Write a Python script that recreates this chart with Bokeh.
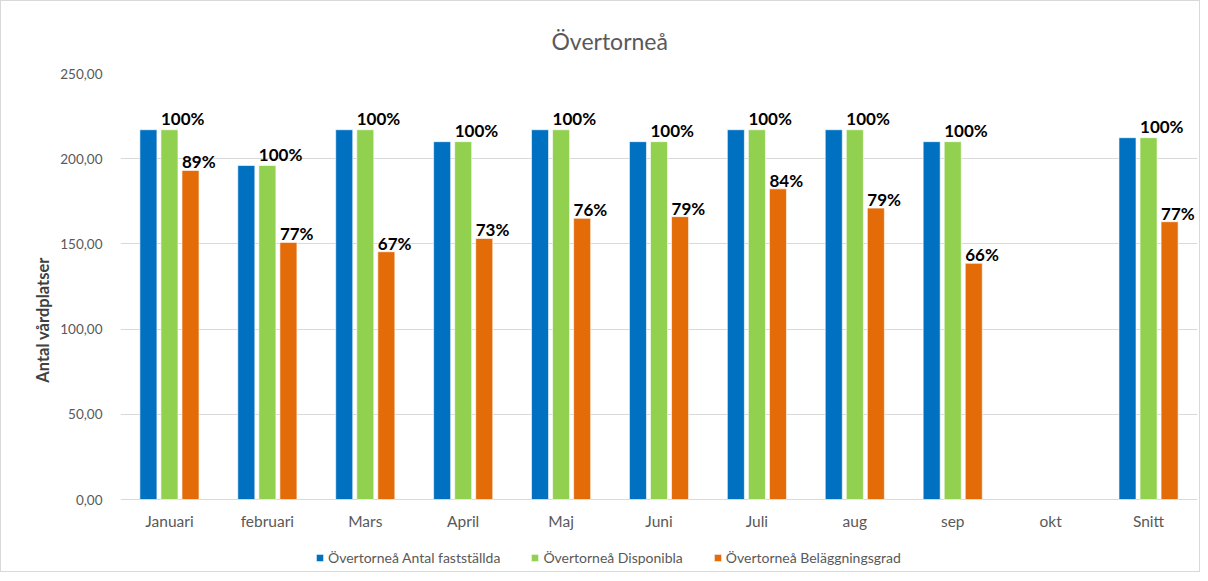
from bokeh.plotting import figure
from bokeh.models import (ColumnDataSource, FactorRange, FixedTicker, CustomJSTickFormatter,
                          Legend, LegendItem, Title)
from bokeh.transform import dodge
from bokeh.core.properties import value
from bokeh.embed import file_html
from bokeh.resources import INLINE

months = ["Januari", "februari", "Mars", "April", "Maj", "Juni", "Juli", "aug", "sep", "okt", "Snitt"]
faststallda = [217, 196, 217, 210, 217, 210, 217, 217, 210, float("nan"), 212.33]
disponibla = [217, 196, 217, 210, 217, 210, 217, 217, 210, float("nan"), 212.33]
belaggning = [193.1, 150.9, 145.4, 153.2, 165.0, 166.0, 182.3, 171.0, 138.6, float("nan"), 163.0]
disp_labels = ["100%", "100%", "100%", "100%", "100%", "100%", "100%", "100%", "100%", "", "100%"]
bel_labels = ["89%", "77%", "67%", "73%", "76%", "79%", "84%", "79%", "66%", "", "77%"]
series_names = ["Övertorneå Antal fastställda", "Övertorneå Disponibla", "Övertorneå Beläggningsgrad"]
colors = ["#0070C0", "#92D050", "#E36C09"]
y_ticks = [0, 50, 100, 150, 200, 250]

src = ColumnDataSource(dict(m=months, a=faststallda, d=disponibla, b=belaggning,
                            base=[0] * len(months)))
keep = [i for i, t in enumerate(disp_labels) if t]
lab_src = ColumnDataSource(dict(
    m=[months[i] for i in keep],
    d=[disponibla[i] for i in keep],
    b=[belaggning[i] for i in keep],
    dl=[disp_labels[i] for i in keep],
    bl=[bel_labels[i] for i in keep],
))

FONT = "Lato"
# the frame extends below zero so that the category labels and the legend sit inside it
p = figure(frame_width=1077, frame_height=493, x_range=FactorRange(*months, range_padding=0),
           y_range=(-39.3, 250), output_backend="svg", toolbar_location=None,
           min_border_left=119, min_border_right=2, min_border_top=72, min_border_bottom=5)
p.styles = {"border": "1px solid #D9D9D9"}
p.outline_line_color = None
p.background_fill_color = "white"

p.title = Title(text="Övertorneå", align="left", offset=431, standoff=35, vertical_align="middle",
                text_font=FONT, text_font_size="23px", text_font_style="normal", text_color="#595959")

w = 0.174
off = 0.215
r1 = p.vbar(x=dodge("m", -off, range=p.x_range), top="a", width=w, source=src,
            fill_color=colors[0], line_color="white", line_width=0.6)
r2 = p.vbar(x=dodge("m", 0, range=p.x_range), top="d", width=w, source=src,
            fill_color=colors[1], line_color="white", line_width=0.6)
r3 = p.vbar(x=dodge("m", off, range=p.x_range), top="b", width=w, source=src,
            fill_color=colors[2], line_color="white", line_width=0.6)

p.text(x=dodge("m", -w / 2, range=p.x_range), y="d", text="dl", source=lab_src,
       text_align="left", text_baseline="bottom", y_offset=-1,
       text_font=value(FONT), text_font_size="17px", text_font_style="bold", text_color="#000000")
p.text(x=dodge("m", off - w / 2, range=p.x_range), y="b", text="bl", source=lab_src,
       text_align="left", text_baseline="bottom", y_offset=2,
       text_font=value(FONT), text_font_size="17px", text_font_style="bold", text_color="#000000")

# category labels under the zero line
p.text(x="m", y="base", text="m", source=src, text_align="center", text_baseline="middle",
       y_offset=21, text_font=value(FONT), text_font_size="15.5px", text_color="#595959")

p.yaxis.ticker = FixedTicker(ticks=y_ticks)
p.yaxis.formatter = CustomJSTickFormatter(code="return tick.toFixed(2).replace('.', ',');")
p.yaxis.axis_line_color = None
p.yaxis.major_tick_line_color = None
p.yaxis.minor_tick_line_color = None
p.yaxis.major_label_text_font = FONT
p.yaxis.major_label_text_font_size = "13.5px"
p.yaxis.major_label_text_color = "#595959"
p.yaxis.major_label_standoff = 12
p.yaxis.axis_label = "Antal vårdplatser"
p.yaxis.axis_label_text_font = FONT
p.yaxis.axis_label_text_font_size = "16.5px"
p.yaxis.axis_label_text_font_style = "bold"
p.yaxis.axis_label_text_color = "#404040"
p.yaxis.axis_label_standoff = 4

p.xaxis.visible = False
p.xgrid.grid_line_color = None
p.ygrid.ticker = FixedTicker(ticks=y_ticks)
p.ygrid.grid_line_color = "#D9D9D9"
p.ygrid.grid_line_width = 1

legend = Legend(items=[LegendItem(label=series_names[0], renderers=[r1]),
                       LegendItem(label=series_names[1], renderers=[r2]),
                       LegendItem(label=series_names[2], renderers=[r3])],
                orientation="horizontal", location=(195, 0),
                glyph_width=9, glyph_height=9, label_standoff=4, spacing=30,
                padding=0, margin=0, border_line_color=None, background_fill_alpha=0,
                label_text_font=FONT, label_text_font_size="14px", label_text_color="#595959")
p.add_layout(legend, "center")

open("out.html", "w").write(file_html(p, INLINE))
